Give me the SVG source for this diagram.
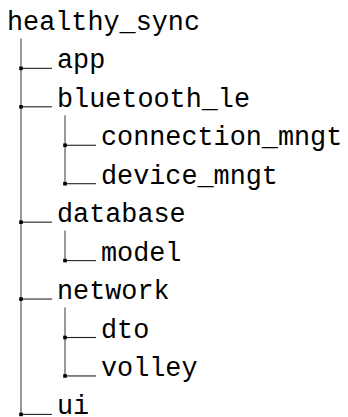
<svg xmlns="http://www.w3.org/2000/svg" width="348" height="417" viewBox="0 0 348 417">
  <style>
    .label { font-family: "Liberation Mono", "DejaVu Sans Mono", monospace; font-size: 26.8px; fill: #000; }
    .trunk { stroke: #555; stroke-width: 1.2; fill: none; }
    .branch { stroke: #222; stroke-width: 1.1; fill: none; }
    .knot { fill: #000; }
  </style>
  <defs>
    <rect id="knot" class="knot" x="-1.8" y="-1.8" width="3.6" height="3.6"/>
  </defs>
  <rect width="348" height="417" fill="#fff"/>

  <!-- tree connectors -->
  <g id="connectors">
    <!-- trunks -->
    <line class="trunk" x1="21" y1="38.4" x2="21" y2="414.4"/>
    <line class="trunk" x1="65" y1="115.3" x2="65" y2="183.7"/>
    <line class="trunk" x1="65" y1="230.6" x2="65" y2="260.6"/>
    <line class="trunk" x1="65" y1="307.5" x2="65" y2="375.9"/>
    <!-- level 1 branches -->
    <line class="branch" x1="21" y1="68.35" x2="52" y2="68.35"/>
    <line class="branch" x1="21" y1="106.8" x2="52" y2="106.8"/>
    <line class="branch" x1="21" y1="222.15" x2="52" y2="222.15"/>
    <line class="branch" x1="21" y1="299.05" x2="52" y2="299.05"/>
    <line class="branch" x1="21" y1="414.4" x2="52" y2="414.4"/>
    <!-- level 2 branches -->
    <line class="branch" x1="65" y1="145.25" x2="96" y2="145.25"/>
    <line class="branch" x1="65" y1="183.7" x2="96" y2="183.7"/>
    <line class="branch" x1="65" y1="260.6" x2="96" y2="260.6"/>
    <line class="branch" x1="65" y1="337.5" x2="96" y2="337.5"/>
    <line class="branch" x1="65" y1="375.95" x2="96" y2="375.95"/>
    <!-- junction knots -->
    <use href="#knot" x="21" y="68.35"/>
    <use href="#knot" x="21" y="106.8"/>
    <use href="#knot" x="21" y="222.15"/>
    <use href="#knot" x="21" y="299.05"/>
    <use href="#knot" x="21" y="414.4"/>
    <use href="#knot" x="65" y="145.25"/>
    <use href="#knot" x="65" y="183.7"/>
    <use href="#knot" x="65" y="260.6"/>
    <use href="#knot" x="65" y="337.5"/>
    <use href="#knot" x="65" y="375.95"/>
  </g>

  <g id="healthy_sync"><text class="label" x="7" y="29.9">healthy_sync</text></g>
  <g id="app"><text class="label" x="57" y="68.35">app</text></g>
  <g id="bluetooth_le"><text class="label" x="57" y="106.8">bluetooth_le</text></g>
  <g id="connection_mngt"><text class="label" x="101" y="145.25">connection_mngt</text></g>
  <g id="device_mngt"><text class="label" x="101" y="183.7">device_mngt</text></g>
  <g id="database"><text class="label" x="57" y="222.15">database</text></g>
  <g id="model"><text class="label" x="101" y="260.6">model</text></g>
  <g id="network"><text class="label" x="57" y="299.05">network</text></g>
  <g id="dto"><text class="label" x="101" y="337.5">dto</text></g>
  <g id="volley"><text class="label" x="101" y="375.95">volley</text></g>
  <g id="ui"><text class="label" x="57" y="414.4">ui</text></g>
</svg>
